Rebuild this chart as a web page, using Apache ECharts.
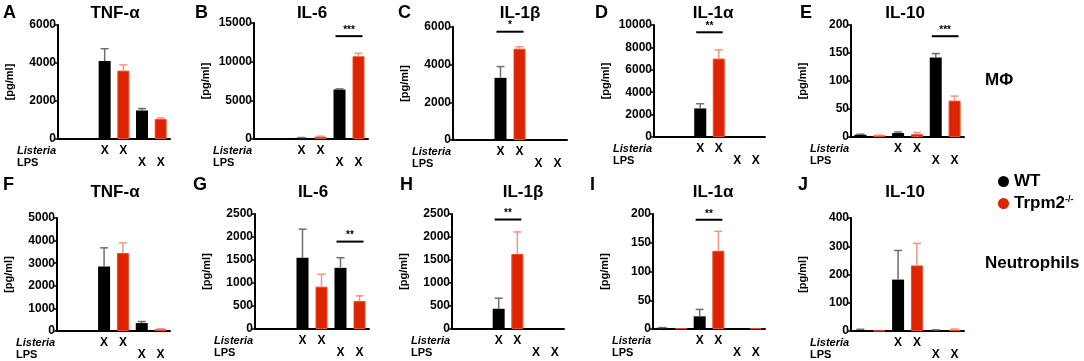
<!DOCTYPE html>
<html>
<head>
<meta charset="utf-8">
<script src="https://cdn.jsdelivr.net/npm/echarts@6/dist/echarts.min.js"></script>
<style>
  html, body { margin: 0; background: #fff; }
  #chart { width: 1084px; height: 361px; }
</style>
</head>
<body>
<div id="chart"></div>
<script>
// group order in every array: control, Listeria, LPS
const macTnfWT = [0, 4100, 1500],   macTnfWTsd = [0, 650, 100]
const macTnfKO = [0, 3600, 1050],   macTnfKOsd = [0, 300, 60]
const macIl6WT = [0, 150, 6400],    macIl6WTsd = [0, 40, 80]
const macIl6KO = [0, 300, 10700],   macIl6KOsd = [0, 60, 380]
const macIl1bWT = [0, 3300, 0],     macIl1bWTsd = [0, 600, 0]
const macIl1bKO = [0, 4850, 0],     macIl1bKOsd = [0, 100, 0]
const macIl1aWT = [0, 2550, 0],     macIl1aWTsd = [0, 420, 0]
const macIl1aKO = [0, 7000, 0],     macIl1aKOsd = [0, 780, 0]
const macIl10WT = [4, 7, 142],      macIl10WTsd = [1, 2, 7]
const macIl10KO = [3, 5, 65],       macIl10KOsd = [0.5, 3, 8]

const neuTnfWT = [0, 2850, 350],    neuTnfWTsd = [0, 830, 70]
const neuTnfKO = [0, 3450, 80],     neuTnfKOsd = [0, 450, 20]
const neuIl6WT = [0, 1550, 1330],   neuIl6WTsd = [0, 620, 220]
const neuIl6KO = [0, 920, 610],     neuIl6KOsd = [0, 270, 110]
const neuIl1bWT = [0, 440, 0],      neuIl1bWTsd = [0, 230, 0]
const neuIl1bKO = [0, 1630, 0],     neuIl1bKOsd = [0, 480, 0]
const neuIl1aWT = [2, 22, 1],       neuIl1aWTsd = [0.5, 12, 0]
const neuIl1aKO = [1, 136, 1],      neuIl1aKOsd = [0, 34, 0]
const neuIl10WT = [3, 182, 3],      neuIl10WTsd = [3, 103, 1]
const neuIl10KO = [1, 232, 5],      neuIl10KOsd = [0, 78, 2]

const listeriaMarks = ['', '', 'X', 'X', '', '']
const lpsMarks = ['', '', '', '', 'X', 'X']

const FONT = 'Liberation Sans, Arial, sans-serif'
const RED = '#dd2400'

// sig: [from slot, to slot, height, stars]
const panels = [
  { letter: 'A', title: 'TNF-α', wt: macTnfWT, wtSd: macTnfWTsd, ko: macTnfKO, koSd: macTnfKOsd, max: 6000, step: 2000, sig: null,
    grid: { left: 58, top: 25, width: 112, height: 114 }, lx: 3, tx: 115 },
  { letter: 'B', title: 'IL-6', wt: macIl6WT, wtSd: macIl6WTsd, ko: macIl6KO, koSd: macIl6KOsd, max: 15000, step: 5000, sig: [4, 5, 13300, '***'],
    grid: { left: 254, top: 23, width: 114, height: 116 }, lx: 195, tx: 312 },
  { letter: 'C', title: 'IL-1β', wt: macIl1bWT, wtSd: macIl1bWTsd, ko: macIl1bKO, koSd: macIl1bKOsd, max: 6000, step: 2000, sig: [2, 3, 5750, '*'],
    grid: { left: 453, top: 27, width: 114, height: 113 }, lx: 398, tx: 520 },
  { letter: 'D', title: 'IL-1α', wt: macIl1aWT, wtSd: macIl1aWTsd, ko: macIl1aKO, koSd: macIl1aKOsd, max: 10000, step: 2000, sig: [2, 3, 9350, '**'],
    grid: { left: 654, top: 25, width: 111, height: 112 }, lx: 595, tx: 713 },
  { letter: 'E', title: 'IL-10', wt: macIl10WT, wtSd: macIl10WTsd, ko: macIl10KO, koSd: macIl10KOsd, max: 200, step: 50, sig: [4, 5, 180, '***'],
    grid: { left: 851, top: 25, width: 113, height: 112 }, lx: 800, tx: 905 },
  { letter: 'F', title: 'TNF-α', wt: neuTnfWT, wtSd: neuTnfWTsd, ko: neuTnfKO, koSd: neuTnfKOsd, max: 5000, step: 1000, sig: null,
    grid: { left: 57, top: 218, width: 113, height: 113 }, lx: 3, tx: 115 },
  { letter: 'G', title: 'IL-6', wt: neuIl6WT, wtSd: neuIl6WTsd, ko: neuIl6KO, koSd: neuIl6KOsd, max: 2500, step: 500, sig: [4, 5, 1900, '**'],
    grid: { left: 255, top: 214, width: 114, height: 115 }, lx: 193, tx: 313 },
  { letter: 'H', title: 'IL-1β', wt: neuIl1bWT, wtSd: neuIl1bWTsd, ko: neuIl1bKO, koSd: neuIl1bKOsd, max: 2500, step: 500, sig: [2, 3, 2380, '**'],
    grid: { left: 452, top: 214, width: 112, height: 115 }, lx: 400, tx: 523 },
  { letter: 'I', title: 'IL-1α', wt: neuIl1aWT, wtSd: neuIl1aWTsd, ko: neuIl1aKO, koSd: neuIl1aKOsd, max: 200, step: 50, sig: [2, 3, 190, '**'],
    grid: { left: 653, top: 214, width: 112, height: 115 }, lx: 590, tx: 713 },
  { letter: 'J', title: 'IL-10', wt: neuIl10WT, wtSd: neuIl10WTsd, ko: neuIl10KO, koSd: neuIl10KOsd, max: 400, step: 100, sig: null,
    grid: { left: 851, top: 218, width: 113, height: 113 }, lx: 798, tx: 905 },
]

function errItem(params, api) {
  const sd = api.value(2)
  if (!sd) return null
  const x = api.value(0)
  const lo = api.coord([x, api.value(1)])
  const hi = api.coord([x, api.value(1) + sd])
  const color = api.value(3) ? '#f29584' : '#6e6e6e'
  return {
    type: 'group',
    children: [
      { type: 'line', shape: { x1: lo[0], y1: lo[1], x2: hi[0], y2: hi[1] }, style: { stroke: color, lineWidth: 1.5 } },
      { type: 'line', shape: { x1: hi[0] - 4, y1: hi[1], x2: hi[0] + 4, y2: hi[1] }, style: { stroke: color, lineWidth: 1.5 } },
    ],
  }
}

const grids = [], xAxes = [], yAxes = [], series = [], texts = []

panels.forEach((p, i) => {
  grids.push(Object.assign({ outerBoundsMode: 'none' }, p.grid))
  xAxes.push({
    gridIndex: i, type: 'category', data: ['c0', 'c1', 'c2', 'c3', 'c4', 'c5'],
    axisLine: { lineStyle: { color: '#000', width: 2 } },
    axisTick: { show: false },
    axisLabel: {
      interval: 0, margin: 6, color: '#000', fontFamily: FONT, fontWeight: 'bold', fontSize: 12, lineHeight: 12,
      formatter: (v, idx) => (listeriaMarks[idx] || ' ') + '\n' + (lpsMarks[idx] || ' '),
    },
  })
  yAxes.push({
    gridIndex: i, type: 'value', min: 0, max: p.max, interval: p.step,
    name: '[pg/ml]', nameLocation: 'middle', nameGap: 43,
    nameTextStyle: { color: '#000', fontFamily: FONT, fontWeight: 'bold', fontSize: 11 },
    axisLine: { show: true, lineStyle: { color: '#000', width: 2 } },
    axisTick: { show: true, length: 4, lineStyle: { color: '#000', width: 1.5 } },
    axisLabel: { color: '#000', fontFamily: FONT, fontWeight: 'bold', fontSize: 12, margin: 2, formatter: (v) => String(v) },
    splitLine: { show: false },
  })

  const wtData = [], koData = [], errData = []
  for (let g = 0; g < 3; g++) {
    wtData.push(p.wt[g] || '-', '-')
    koData.push('-', p.ko[g] || '-')
    errData.push([2 * g, p.wt[g], p.wtSd[g], 0], [2 * g + 1, p.ko[g], p.koSd[g], 1])
  }
  series.push(
    { name: 'WT', type: 'bar', xAxisIndex: i, yAxisIndex: i, data: wtData, barWidth: 12, barGap: '-100%',
      itemStyle: { color: '#000' }, silent: true },
    { name: 'Trpm2-/-', type: 'bar', xAxisIndex: i, yAxisIndex: i, data: koData, barWidth: 12, barGap: '-100%',
      itemStyle: { color: RED, borderColor: '#f04a28', borderWidth: 1 }, silent: true },
    { type: 'custom', xAxisIndex: i, yAxisIndex: i, data: errData, renderItem: errItem, z: 3, silent: true,
      encode: { x: 0, y: 1 } },
  )
  if (p.sig) {
    const stars = p.sig[3]
    series.push({
      type: 'custom', xAxisIndex: i, yAxisIndex: i, data: [p.sig.slice(0, 3)], z: 4, silent: true,
      encode: { x: 0, y: 2 },
      renderItem: (params, api) => {
        const a = api.coord([api.value(0), api.value(2)])
        const b = api.coord([api.value(1), api.value(2)])
        return {
          type: 'group',
          children: [
            { type: 'line', shape: { x1: a[0] - 4, y1: a[1], x2: b[0] + 4, y2: a[1] }, style: { stroke: '#000', lineWidth: 2 } },
            { type: 'text', x: (a[0] + b[0]) / 2, y: a[1] - 1,
              style: { text: stars, fill: '#000', font: 'bold 10px ' + FONT, textAlign: 'center', textVerticalAlign: 'bottom' } },
          ],
        }
      },
    })
  }

  const axisY = p.grid.top + p.grid.height
  texts.push(
    { type: 'text', x: p.lx, y: i < 5 ? 13 : 185,
      style: { text: p.letter, fill: '#000', font: 'bold 18px ' + FONT, textAlign: 'left', textVerticalAlign: 'middle' } },
    { type: 'text', x: p.tx, y: i < 5 ? 13 : 192,
      style: { text: p.title, fill: '#000', font: 'bold 17px ' + FONT, textAlign: 'center', textVerticalAlign: 'middle' } },
    { type: 'text', x: p.grid.left - 41, y: axisY + 12,
      style: { text: 'Listeria', fill: '#000', font: 'italic bold 11px ' + FONT, textAlign: 'left', textVerticalAlign: 'middle' } },
    { type: 'text', x: p.grid.left - 41, y: axisY + 24,
      style: { text: 'LPS', fill: '#000', font: 'bold 11px ' + FONT, textAlign: 'left', textVerticalAlign: 'middle' } },
  )
})

texts.push(
  { type: 'text', x: 985, y: 80, style: { text: 'MΦ', fill: '#000', font: 'bold 17px ' + FONT, textAlign: 'left', textVerticalAlign: 'middle' } },
  { type: 'text', x: 985, y: 263, style: { text: 'Neutrophils', fill: '#000', font: 'bold 17px ' + FONT, textAlign: 'left', textVerticalAlign: 'middle' } },
)

const chart = echarts.init(document.getElementById('chart'))
chart.setOption({
  animation: false,
  backgroundColor: '#fff',
  grid: grids,
  xAxis: xAxes,
  yAxis: yAxes,
  legend: {
    data: ['WT', 'Trpm2-/-'], orient: 'vertical', left: 993, top: 168,
    icon: 'circle', itemWidth: 11, itemHeight: 11, itemGap: 5, selectedMode: false,
    itemStyle: { borderWidth: 0 },
    formatter: (n) => (n === 'WT' ? 'WT' : 'Trpm2{sup|-/-}'),
    textStyle: {
      color: '#000', fontFamily: FONT, fontWeight: 'bold', fontSize: 17,
      rich: { sup: { fontSize: 9, fontWeight: 'bold', fontFamily: FONT, color: '#000', verticalAlign: 'top' } },
    },
  },
  graphic: texts,
  series: series,
})
</script>
</body>
</html>
